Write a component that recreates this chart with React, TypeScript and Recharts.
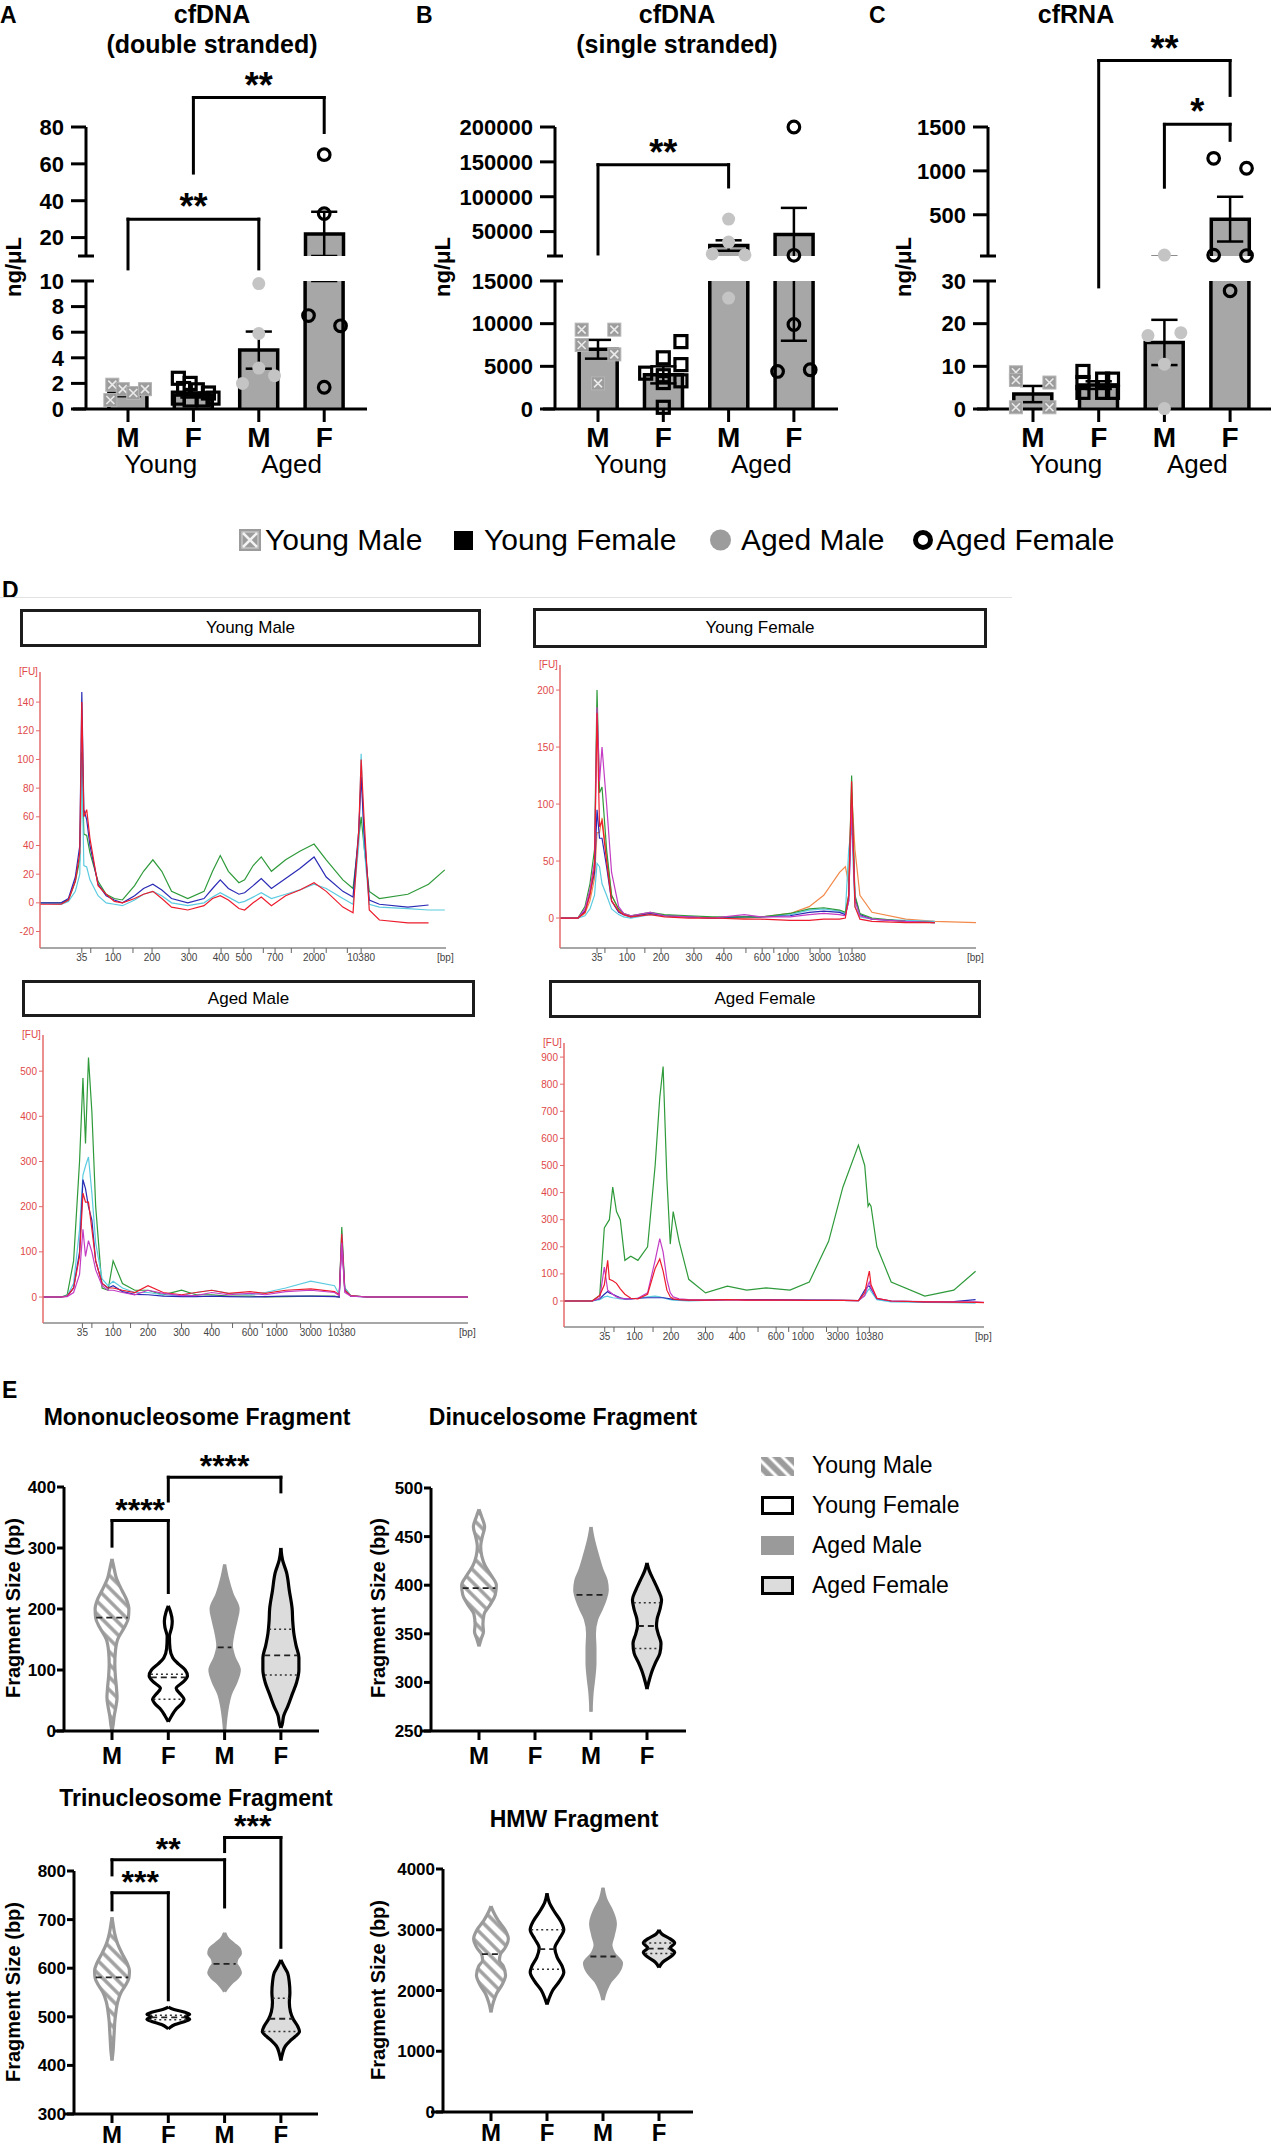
import React from "react";
import {
  ComposedChart,
  LineChart,
  Line,
  Bar,
  Scatter,
  Area,
  XAxis,
  YAxis,
  ReferenceLine,
} from "recharts";

const FONT = '"Liberation Sans", Arial, Helvetica, sans-serif';
const AX = { stroke: "#000", strokeWidth: 3 };
const BAR_FILL = "#a7a7a7";

// ---------- shared labels ----------
const SEX = ["M", "F", "M", "F"];
const AGE = ["Young", "Aged"];
const GROUP_NAMES = ["Young Male", "Young Female", "Aged Male", "Aged Female"];

// ---------- A: cfDNA (double stranded) ----------
const A_MEAN = [1.25, 1.1, 4.6, 22];
const A_SEM = [0.25, 0.2, 1.45, 12];
const A_PTS = [
  [1.9, 1.55, 1.25, 1.55, 0.7],
  [2.4, 2.0, 1.6, 1.5, 1.25, 0.85, 0.7, 0.7, 0.85],
  [9.8, 5.9, 3.2, 2.0, 2.6],
  [65, 33, 7.3, 6.5, 1.7],
];
const A_JIT = [
  [-0.24, -0.08, 0.08, 0.26, -0.27],
  [-0.23, -0.05, -0.15, 0.06, 0.23, -0.23, -0.05, 0.15, 0.3],
  [0, 0, 0, -0.25, 0.24],
  [0, 0, -0.24, 0.25, 0],
];
const A_BRACKETS = [
  { x0: 0, x1: 2, y: 30, l: 3, r: 3, text: "**" },
  { x0: 1, x1: 3, y: 96, l: 55, r: 77, text: "**" },
];

// ---------- B: cfDNA (single stranded) ----------
const B_MEAN = [7000, 4000, 30000, 46000];
const B_SEM = [1100, 1000, 7500, 38000];
const B_PTS = [
  [9300, 9300, 7500, 6400, 3000],
  [7900, 6000, 5200, 4200, 3900, 3100, 3300, 200],
  [68000, 35000, 18000, 16500, 13000],
  [200000, 16000, 9900, 4400, 4600],
];
const B_JIT = [
  [-0.25, 0.25, -0.25, 0.25, 0],
  [0.27, 0, 0.27, -0.27, 0, 0, 0.27, 0],
  [0, 0, -0.25, 0.25, 0],
  [0, 0, 0, -0.25, 0.25],
];
const B_BRACKETS = [{ x0: 0, x1: 2, y: 146000, l: 17900, r: 114000, text: "**" }];

// ---------- C: cfRNA ----------
const C_MEAN = [3.5, 5.6, 15.6, 450];
const C_SEM = [1.9, 0.9, 5.3, 255];
const C_PTS = [
  [8.6, 6.8, 6.2, 0.4, 0.4],
  [8.8, 7.0, 7.0, 6.2, 3.9, 3.9, 3.9],
  [40, 17.2, 17.9, 10.5, 0.1],
  [1143, 1030, 40, 35, 27.7],
];
const C_JIT = [
  [-0.26, -0.26, 0.25, -0.26, 0.25],
  [-0.24, 0.06, 0.21, -0.24, -0.24, 0.06, 0.21],
  [0, -0.25, 0.25, 0, 0],
  [-0.25, 0.25, -0.25, 0.25, 0],
];
const C_BRACKETS = [
  { x0: 1, x1: 3, y: 2257, l: -322, r: 1860, text: "**" },
  { x0: 2, x1: 3, y: 1530, l: 814, r: 1348, text: "*" },
];

// ---------- D: Bioanalyzer traces ----------
const LADDER = [35, 50, 100, 150, 200, 300, 400, 500, 600, 700, 1000, 2000, 3000, 7000, 10380];
const YM_LADDER_T = [10.3, 12.5, 18.0, 22.9, 27.6, 36.7, 44.6, 50.2, 55.0, 57.9, 61.9, 67.5, 70.5, 75.7, 79.1];
const YF_LADDER_T = [8.9, 10.8, 16.1, 20.4, 24.3, 32.2, 39.4, 44.7, 48.6, 51.4, 54.8, 60.1, 62.5, 67.1, 70.2];
const AM_LADDER_T = [9.27, 11.5, 16.5, 20.6, 24.7, 32.6, 39.7, 44.6, 48.7, 51.6, 55.0, 60.6, 63.0, 67.6, 70.3];
const AF_LADDER_T = [9.7, 11.9, 16.8, 21.2, 25.5, 33.7, 41.2, 46.2, 50.5, 53.5, 56.9, 62.5, 65.2, 70.0, 72.7];
const YM_SHOWN = [35, 100, 200, 300, 400, 500, 700, 2000, 10380];
const OTHER_SHOWN = [35, 100, 200, 300, 400, 600, 1000, 3000, 10380];

const GREEN = "#2e9a3a";
const BLUE = "#2a2ab5";
const CYAN = "#5ccbe0";
const RED = "#ec1c2c";
const MAGENTA = "#c43cc4";
const ORANGE = "#f2894a";

const YM_T = [0, 5.2, 7, 8.7, 9.8, 10.3, 10.8, 11.5, 12.3, 14.3, 16.3, 18.3, 20.3, 23.3, 25.5, 27.8, 30, 32.4, 36.4, 40.4, 42.5, 44.4, 46.4, 49, 50.4, 52.5, 54.5, 57, 60.5, 64, 67.5, 70.5, 74.6, 77.1, 78.5, 79.1, 79.8, 81.1, 83.6, 90.6, 95.7, 99.7];
const YM_GREEN = [0, 0, 2, 15, 30, 105, 48, 47, 35, 15, 6, 3, 2, 12, 22, 30, 22, 8, 3, 8, 22, 33, 22, 14, 16, 26, 32, 22, 30, 36, 41, 30, 16, 10, 45, 60, 40, 8, 3, 6, 13, 23];
const YM_BLUE = [0, 0, 3, 18, 40, 147, 65, 58, 40, 13, 5, 2, 0, 5, 10, 13, 9, 3, 0, 3, 10, 16, 10, 6, 7, 12, 17, 10, 17, 24, 32, 18, 8, 4, 50, 88, 50, 2, -1, -3, -1.5, null];
const YM_CYAN = [0, -1, 1, 8, 20, 100, 26, 25, 16, 5, 0, -1, -2, 2, 6, 8, 5, 0, -2, 0, 4, 7, 4, 0, 1, 4, 7, 3, 6, 9, 13, 10, 3, -1, 40, 104, 40, -1, -3, -4, -5, -5];
const YM_RED = [-1, -1, 2, 15, 35, 140, 60, 65, 45, 12, 6, 1, 0, 3, 6, 8, 3, -3, -5, -2, 3, 5, 2, -4, -5, 0, 4, -2, 5, 9, 14, 8, -3, -7, 50, 100, 60, -5, -12, -14, -14, null];

const YF_T = [0, 4.3, 6.0, 7.2, 8.3, 8.9, 9.5, 10.1, 11.2, 12.4, 14.1, 15.3, 17.0, 21.7, 25.1, 31.0, 36.7, 44.3, 48.3, 55.3, 59.9, 63.4, 67.2, 68.6, 69.4, 70.1, 70.9, 72.1, 75.0, 83.1, 90.1, 100];
const YF_GREEN = [0, 0, 10, 30, 60, 200, 110, 115, 60, 20, 8, 4, 2, 5, 3, 2, 1, 1, 1, 4, 8, 9, 7, 5, 20, 125, 20, 4, 0, -3, -4, null];
const YF_MAGENTA = [0, 0, 8, 25, 50, 185, 120, 150, 100, 40, 10, 4, 2, 5, 2, 1, 0, 3, 1, 1, 3, 4, 3, 2, 15, 100, 15, 2, -1, -3, -4, null];
const YF_RED = [0, 0, 5, 20, 45, 180, 80, 85, 50, 15, 6, 3, 1, 3, 1, 0, 0, -1, -1, -2, -2, -1, -1, 0, 20, 120, 10, -1, -3, -4, -4, null];
const YF_BLUE = [0, 0, 6, 22, 40, 95, 70, 70, 45, 15, 5, 3, 1, 4, 2, 1, 0, 1, 1, 2, 5, 6, 5, 3, 15, 105, 18, 3, -1, -3, -4, null];
const YF_ORANGE = [0, 0, 4, 15, 35, 75, 75, 88, 55, 20, 7, 4, 2, 4, 2, 1, 0, 0, 1, 4, 10, 20, 40, 45, 30, 110, 60, 20, 5, -1, -3, -4];
const YF_CYAN = [0, 0, 2, 8, 20, 48, 45, 30, 20, 8, 3, 1, 0, 3, 2, 1, 0, 1, 1, 3, 7, 8, 6, 4, 60, 80, 10, 1, -1, -2, -3, null];

const AM_T = [0, 4.3, 5.7, 7.2, 8.6, 9.4, 10.0, 10.7, 11.5, 12.4, 13.9, 15.3, 16.5, 18.7, 21.6, 24.7, 28.3, 32.6, 36.0, 39.7, 43.6, 48.7, 52.3, 57.1, 63.0, 68.6, 69.7, 70.3, 71.0, 72.4, 76.3, 85.9, 100];
const AM_GREEN = [0, 0, 5, 80, 300, 485, 340, 530, 410, 200, 20, 15, 80, 30, 15, 15, 5, 15, 5, 5, 2, 2, 0, 1, 2, 2, 0, 155, 20, 3, 0, 0, 0];
const AM_CYAN = [0, 0, 3, 30, 150, 270, 290, 310, 230, 120, 40, 25, 35, 20, 10, 10, 5, 3, 10, 15, 8, 5, 10, 20, 35, 25, 5, 140, 20, 3, 0, 0, 0];
const AM_BLUE = [0, 0, 2, 20, 100, 260, 240, 200, 170, 80, 30, 20, 25, 12, 6, 5, 2, 1, 1, 2, 1, 0, 1, 2, 2, 1, 0, 130, 15, 2, 0, 0, 0];
const AM_RED = [0, 0, 2, 20, 90, 230, 210, 210, 150, 80, 30, 20, 20, 15, 10, 25, 10, 5, 10, 15, 8, 12, 8, 15, 18, 12, 5, 140, 15, 3, 0, 0, 0];
const AM_MAGENTA = [0, 0, 1, 10, 50, 150, 90, 125, 100, 60, 25, 15, 15, 10, 5, 15, 8, 3, 3, 10, 5, 8, 5, 12, 15, 10, 3, 120, 10, 2, 0, 0, 0];

const AF_T = [0, 6.7, 8.5, 9.6, 10.4, 10.8, 11.6, 12.5, 13.4, 14.5, 15.9, 17.6, 19.9, 21.7, 22.8, 23.6, 24.5, 25.3, 26.0, 27.4, 29.7, 33.7, 38.9, 43.5, 48.1, 53.8, 58.4, 63.0, 66.4, 70.1, 71.6, 72.4, 72.7, 73.1, 74.5, 77.9, 85.9, 92.8, 98.0, 100];
const AF_GREEN = [0, 0, 20, 270, 290, 300, 420, 330, 300, 150, 165, 150, 200, 500, 750, 865, 450, 210, 330, 220, 80, 30, 55, 40, 48, 40, 70, 220, 420, 575, 500, 350, 360, 350, 200, 70, 18, 40, 110, null];
const AF_MAGENTA = [0, 0, 10, 125, 40, 35, 25, 15, 10, 8, 8, 10, 30, 150, 230, 180, 80, 30, 15, 8, 5, 3, 5, 3, 3, 3, 2, 2, 2, 1, 20, 60, 70, 50, 10, 0, -2, -3, -3, -5];
const AF_RED = [0, 0, 20, 60, 150, 80, 75, 65, 45, 25, 10, 8, 25, 120, 155, 110, 40, 15, 8, 5, 3, 3, 5, 3, 3, 3, 2, 2, 2, 1, 30, 90, 110, 60, 10, 0, -3, -4, -5, -6];
const AF_BLUE = [0, 0, 8, 25, 35, 30, 25, 18, 12, 8, 8, 10, 12, 12, 12, 12, 10, 8, 6, 5, 3, 3, 5, 5, 5, 4, 3, 3, 2, 1, 40, 55, 55, 45, 8, 0, -3, -2, 5, null];
const AF_CYAN = [0, 0, 5, 15, 18, 15, 12, 10, 8, 6, 8, 10, 15, 18, 15, 12, 8, 5, 3, 2, 0, 2, 5, 5, 4, 3, 3, 2, 2, 1, 20, 40, 45, 35, 5, -3, -5, -6, -8, null];

// ---------- E: violin profiles [size (bp), half width] ----------
type Prof = [number, number][];
const MONO_YM: Prof = [[282, 0], [270, 0.03], [250, 0.08], [230, 0.18], [215, 0.26], [200, 0.3], [185, 0.29], [170, 0.22], [150, 0.1], [130, 0.06], [110, 0.05], [90, 0.06], [70, 0.08], [55, 0.09], [40, 0.07], [25, 0.04], [10, 0.02], [0, 0]];
const MONO_YF: Prof = [[205, 0], [195, 0.04], [180, 0.07], [170, 0.06], [155, 0.02], [135, 0.03], [120, 0.08], [110, 0.18], [100, 0.3], [90, 0.34], [80, 0.26], [70, 0.14], [60, 0.22], [52, 0.28], [45, 0.24], [35, 0.13], [25, 0.06], [15, 0]];
const MONO_AM: Prof = [[273, 0], [250, 0.05], [225, 0.13], [200, 0.24], [180, 0.2], [160, 0.15], [140, 0.12], [120, 0.17], [100, 0.26], [80, 0.2], [60, 0.1], [40, 0.05], [20, 0.02], [0, 0]];
const MONO_AF: Prof = [[300, 0], [280, 0.03], [260, 0.1], [230, 0.15], [200, 0.2], [180, 0.21], [160, 0.23], [140, 0.27], [120, 0.32], [100, 0.32], [80, 0.28], [60, 0.2], [40, 0.12], [25, 0.05], [10, 0.02], [5, 0]];
const DINU_YM: Prof = [[478, 0], [470, 0.05], [460, 0.1], [450, 0.06], [440, 0.03], [430, 0.05], [420, 0.11], [410, 0.22], [400, 0.31], [390, 0.29], [380, 0.2], [370, 0.09], [360, 0.07], [352, 0.08], [345, 0.04], [337, 0]];
const DINU_AM: Prof = [[460, 0], [450, 0.03], [430, 0.12], [415, 0.2], [405, 0.27], [395, 0.29], [385, 0.25], [375, 0.18], [365, 0.1], [350, 0.06], [335, 0.07], [320, 0.07], [305, 0.05], [290, 0.02], [270, 0]];
const DINU_AF: Prof = [[423, 0], [415, 0.04], [405, 0.12], [395, 0.2], [385, 0.26], [375, 0.23], [365, 0.18], [358, 0.17], [350, 0.2], [340, 0.25], [330, 0.23], [320, 0.15], [310, 0.08], [300, 0.03], [293, 0]];
const TRI_YM: Prof = [[705, 0], [690, 0.02], [670, 0.05], [650, 0.1], [630, 0.18], [610, 0.27], [595, 0.31], [580, 0.3], [565, 0.24], [550, 0.16], [530, 0.1], [510, 0.07], [490, 0.05], [470, 0.04], [450, 0.03], [430, 0.02], [410, 0]];
const TRI_YF: Prof = [[520, 0], [515, 0.1], [510, 0.28], [505, 0.38], [500, 0.3], [495, 0.38], [490, 0.28], [484, 0.12], [478, 0.03], [475, 0]];
const TRI_AM: Prof = [[673, 0], [660, 0.06], [650, 0.16], [640, 0.26], [630, 0.28], [620, 0.22], [610, 0.2], [600, 0.25], [590, 0.28], [580, 0.22], [570, 0.12], [560, 0.05], [552, 0]];
const TRI_AF: Prof = [[617, 0], [605, 0.05], [590, 0.12], [570, 0.15], [550, 0.16], [530, 0.15], [510, 0.17], [495, 0.22], [480, 0.3], [470, 0.33], [460, 0.26], [450, 0.16], [440, 0.08], [425, 0.03], [410, 0]];
const HMW_YM: Prof = [[3390, 0], [3300, 0.04], [3150, 0.13], [3000, 0.25], [2850, 0.31], [2700, 0.25], [2600, 0.17], [2500, 0.15], [2400, 0.22], [2250, 0.26], [2100, 0.2], [1950, 0.1], [1800, 0.04], [1640, 0]];
const HMW_YF: Prof = [[3600, 0], [3450, 0.04], [3300, 0.13], [3150, 0.24], [3000, 0.3], [2850, 0.22], [2700, 0.14], [2550, 0.18], [2400, 0.27], [2300, 0.3], [2150, 0.22], [2000, 0.1], [1850, 0.03], [1770, 0]];
const HMW_AM: Prof = [[3690, 0], [3500, 0.05], [3300, 0.16], [3100, 0.22], [2900, 0.18], [2750, 0.14], [2600, 0.2], [2450, 0.33], [2300, 0.27], [2150, 0.13], [2000, 0.05], [1840, 0]];
const HMW_AF: Prof = [[3000, 0], [2930, 0.05], [2850, 0.2], [2780, 0.28], [2700, 0.2], [2630, 0.28], [2550, 0.2], [2470, 0.07], [2380, 0]];

const MONO_MED = [186, 88, 137, 124];
const MONO_Q = [null, [52, 93], null, [92, 167]];
const DINU_MED = [397, null, 390, 358];
const DINU_Q = [null, null, null, [335, 382]];
const TRI_MED = [581, 499, 609, 496];
const TRI_Q = [null, [494, 503], null, [470, 538]];
const HMW_MED = [2600, 2680, 2560, 2690];
const HMW_Q = [null, [2350, 3000], null, [2610, 2780]];

const MONO_BRACKETS = [
  { x0: 0, x1: 1, y: 345, l: 303, r: 227, text: "****" },
  { x0: 1, x1: 3, y: 416, l: 377, r: 392, text: "****" },
];
const TRI_BRACKETS = [
  { x0: 0, x1: 1, y: 755, l: 720, r: 535, text: "***" },
  { x0: 0, x1: 2, y: 823, l: 792, r: 726, text: "**" },
  { x0: 2, x1: 3, y: 869, l: 840, r: 643, text: "***" },
];

// ---------- helpers ----------
type Bracket = { x0: number; x1: number; y: number; l: number; r: number; text: string };

function Txt({ x, y, size, bold, anchor = "start", color = "#000", children }: any) {
  const style: React.CSSProperties = {
    position: "absolute",
    top: y - 0.847 * size,
    fontSize: size,
    lineHeight: `${size}px`,
    fontWeight: bold ? 700 : 400,
    color,
    whiteSpace: "nowrap",
    fontFamily: FONT,
  };
  if (anchor === "middle") {
    style.left = x - 300;
    style.width = 600;
    style.textAlign = "center";
  } else style.left = x;
  return <div style={style}>{children}</div>;
}

function VText({ cx, cy, size, children }: any) {
  return (
    <div
      style={{
        position: "absolute",
        left: cx - 150,
        top: cy - size / 2,
        width: 300,
        height: size,
        lineHeight: `${size}px`,
        fontSize: size,
        fontWeight: 700,
        textAlign: "center",
        transform: "rotate(-90deg)",
        fontFamily: FONT,
        whiteSpace: "nowrap",
      }}
    >
      {children}
    </div>
  );
}

const bracketLines = (b: Bracket, k: string, size: number) => [
  <ReferenceLine
    key={`${k}h`}
    segment={[{ x: b.x0, y: b.y }, { x: b.x1, y: b.y }]}
    stroke="#000"
    strokeWidth={3}
    strokeLinecap="square"
    ifOverflow="visible"
    label={{ value: b.text, position: "top", offset: 0, fontSize: size, fontWeight: 700, fill: "#000", fontFamily: FONT }}
  />,
  <ReferenceLine key={`${k}l`} segment={[{ x: b.x0, y: b.y }, { x: b.x0, y: b.l }]} stroke="#000" strokeWidth={3} strokeLinecap="square" ifOverflow="visible" />,
  <ReferenceLine key={`${k}r`} segment={[{ x: b.x1, y: b.y }, { x: b.x1, y: b.r }]} stroke="#000" strokeWidth={3} strokeLinecap="square" ifOverflow="visible" />,
];

const MARKERS = [
  (p: any) => (
    <g>
      <rect x={p.cx - 6.5} y={p.cy - 6.5} width={13} height={13} fill="#9c9c9c" stroke="#b4b4b4" strokeWidth={1} />
      <path d={`M${p.cx - 4},${p.cy - 4}L${p.cx + 4},${p.cy + 4}M${p.cx + 4},${p.cy - 4}L${p.cx - 4},${p.cy + 4}`} stroke="#eaeaea" strokeWidth={1.6} />
    </g>
  ),
  (p: any) => <rect x={p.cx - 6} y={p.cy - 6} width={12} height={12} fill="none" stroke="#000" strokeWidth={3.2} />,
  (p: any) => <circle cx={p.cx} cy={p.cy} r={6.5} fill="#c4c4c4" />,
  (p: any) => <circle cx={p.cx} cy={p.cy} r={5.8} fill="none" stroke="#000" strokeWidth={3.2} />,
];

// bar drawn 38px wide around the centre Recharts gives for the category
const barShape = (top: number) => (p: any) => {
  const { x, y, width, height, payload } = p;
  if (!(height > 0.5)) return <g />;
  const cx = x + width / 2;
  const l = cx - 19;
  const r = cx + 19;
  const closed = payload.mean <= top;
  const d = closed
    ? `M${l},${y + height}V${y}H${r}V${y + height}`
    : `M${l},${y + height}V${y}M${r},${y}V${y + height}`;
  return (
    <g>
      <rect x={l} y={y} width={38} height={height} fill={BAR_FILL} />
      <path d={d} fill="none" stroke="#000" strokeWidth={3.5} />
    </g>
  );
};

// ---------- broken-axis bar panel ----------
const UP_TOP = 127;
const UP_BOT = 256;
const LOW_TOP = 281;
const LOW_BOT = 409;

function BarPanel({ c }: any) {
  const xDom: [number, number] = [(c.axisX - c.cat0) / c.step, (c.right - c.cat0) / c.step];
  const start = (c.lineStart - c.cat0) / c.step;
  const stub = 8 / c.step;
  const W = c.right + 4 - c.left;
  const yW = c.axisX - c.left;
  const rows = c.mean.map((m: number, i: number) => ({ x: i, mean: m, sem: c.sem[i] }));
  const pts = c.vals.map((vs: number[], g: number) => vs.map((y, k) => ({ x: g + c.jit[g][k], y })));
  const split = c.low[1];
  const tick = { fontSize: 22, fontWeight: 700, fill: "#000", fontFamily: FONT };

  const sexTick = (p: any) => {
    const v = p.payload.value;
    return (
      <g>
        <text x={p.x} y={p.y} dy="0.71em" textAnchor="middle" fontSize={28} fontWeight={700} fontFamily={FONT} fill="#000">
          {SEX[v]}
        </text>
        {v % 2 === 0 && (
          <text x={p.x + c.step / 2} y={p.y + 28} dy="0.71em" textAnchor="middle" fontSize={26} fontFamily={FONT} fill="#000">
            {AGE[v / 2]}
          </text>
        )}
      </g>
    );
  };

  const errs = (k: string) =>
    rows.flatMap((r: any) => {
      const lo = r.mean - r.sem;
      const hi = r.mean + r.sem;
      return [
        <ReferenceLine key={`${k}v${r.x}`} segment={[{ x: r.x, y: lo }, { x: r.x, y: hi }]} stroke="#000" strokeWidth={2.5} ifOverflow="hidden" />,
        <ReferenceLine key={`${k}t${r.x}`} segment={[{ x: r.x - 0.2, y: hi }, { x: r.x + 0.2, y: hi }]} stroke="#000" strokeWidth={2.5} ifOverflow="hidden" />,
        <ReferenceLine key={`${k}b${r.x}`} segment={[{ x: r.x - 0.2, y: lo }, { x: r.x + 0.2, y: lo }]} stroke="#000" strokeWidth={2.5} ifOverflow="hidden" />,
      ];
    });

  const dots = (upper: boolean) =>
    pts.map((ps: any[], g: number) => {
      const sel = ps.filter((p) => (upper ? p.y > split : p.y <= split));
      return sel.length ? (
        <Scatter key={`s${g}`} data={sel} dataKey="y" shape={MARKERS[g]} isAnimationActive={false} />
      ) : null;
    });

  return (
    <>
      <div style={{ position: "absolute", left: c.left, top: 0 }}>
        <ComposedChart width={W} height={300} data={rows} margin={{ top: UP_TOP, right: 4, bottom: 300 - UP_BOT, left: 0 }}>
          <XAxis type="number" dataKey="x" domain={xDom} ticks={[0, 1, 2, 3]} hide />
          <YAxis
            type="number"
            domain={c.up}
            ticks={c.upTicks}
            interval={0}
            width={yW}
            axisLine={AX}
            tickLine={AX}
            tickSize={15}
            tickMargin={7}
            tick={tick}
          />
          <Bar
            dataKey={(d: any) => (d.mean > c.up[0] ? [c.up[0], Math.min(d.mean, c.up[1])] : [c.up[0], c.up[0]])}
            barSize={38}
            shape={barShape(c.up[1])}
            isAnimationActive={false}
          />
          {errs("u")}
          <ReferenceLine
            segment={[{ x: xDom[0] - stub, y: c.up[0] }, { x: xDom[0] + stub, y: c.up[0] }]}
            stroke="#000"
            strokeWidth={3}
            ifOverflow="visible"
          />
          {c.brackets.flatMap((b: Bracket, i: number) => bracketLines(b, `br${i}`, 36))}
          {dots(true)}
        </ComposedChart>
      </div>
      <div style={{ position: "absolute", left: c.left, top: 0 }}>
        <ComposedChart width={W} height={500} data={rows} margin={{ top: LOW_TOP, right: 4, bottom: 0, left: 0 }}>
          <XAxis
            type="number"
            dataKey="x"
            domain={xDom}
            ticks={[0, 1, 2, 3]}
            interval={0}
            axisLine={false}
            tickLine={AX}
            tickSize={13}
            tickMargin={5}
            height={500 - LOW_BOT}
            tick={sexTick}
          />
          <YAxis
            type="number"
            domain={c.low}
            ticks={c.lowTicks}
            interval={0}
            width={yW}
            axisLine={AX}
            tickLine={AX}
            tickSize={15}
            tickMargin={7}
            tick={tick}
          />
          <Bar
            dataKey={(d: any) => [0, Math.min(d.mean, c.low[1])]}
            barSize={38}
            shape={barShape(c.low[1])}
            isAnimationActive={false}
          />
          {errs("l")}
          <ReferenceLine
            segment={[{ x: start, y: c.low[0] }, { x: xDom[1], y: c.low[0] }]}
            stroke="#000"
            strokeWidth={3}
            ifOverflow="visible"
          />
          <ReferenceLine
            segment={[{ x: xDom[0], y: c.low[1] }, { x: xDom[0] + stub, y: c.low[1] }]}
            stroke="#000"
            strokeWidth={3}
            ifOverflow="visible"
          />
          {dots(false)}
        </ComposedChart>
      </div>
    </>
  );
}

// ---------- electropherogram panel ----------
function TracePanel({ c }: any) {
  const [pl, pr, pt, pb] = c.plot;
  const W = pr - pl + 44;
  const H = pb - pt + 22;
  const rows = c.t.map((t: number, i: number) => {
    const r: any = { t };
    c.lines.forEach((l: any, k: number) => (r[`s${k}`] = l.v[i]));
    return r;
  });
  const [bx, by, bw, bh] = c.box;
  return (
    <>
      <div
        style={{
          position: "absolute",
          left: bx,
          top: by,
          width: bw,
          height: bh,
          boxSizing: "border-box",
          border: "3px solid #1c1c1c",
          fontSize: 17,
          lineHeight: `${bh - 6}px`,
          textAlign: "center",
          fontFamily: FONT,
        }}
      >
        {c.label}
      </div>
      <div style={{ position: "absolute", left: pl - 40, top: pt }}>
        <LineChart width={W} height={H} data={rows} margin={{ top: 0, right: 4, bottom: 0, left: 0 }}>
          <XAxis
            type="number"
            dataKey="t"
            domain={[0, 100]}
            ticks={c.pos}
            interval={0}
            tickFormatter={(v: number) => {
              const k = c.pos.indexOf(v);
              return c.shown.includes(LADDER[k]) ? String(LADDER[k]) : "";
            }}
            axisLine={{ stroke: "#8a8a8a", strokeWidth: 1.5 }}
            tickLine={{ stroke: "#666" }}
            tickSize={5}
            tickMargin={1}
            height={22}
            tick={{ fontSize: 10, fill: "#444", fontFamily: FONT }}
          />
          <YAxis
            type="number"
            domain={c.y}
            ticks={c.yTicks}
            interval={0}
            allowDataOverflow
            width={40}
            axisLine={{ stroke: "#e46a6a", strokeWidth: 1.5 }}
            tickLine={{ stroke: "#e46a6a" }}
            tickSize={4}
            tickMargin={2}
            tick={{ fontSize: 10, fill: "#e04848", fontFamily: FONT }}
          />
          {c.lines.map((l: any, k: number) => (
            <Line
              key={k}
              dataKey={`s${k}`}
              type="linear"
              stroke={l.c}
              strokeWidth={1.2}
              dot={false}
              activeDot={false}
              isAnimationActive={false}
            />
          ))}
        </LineChart>
      </div>
      <Txt x={pl - 21} y={pt + 3} size={10} color="#e04848">[FU]</Txt>
      <Txt x={pr - 9} y={pb + 13} size={10} color="#444">[bp]</Txt>
    </>
  );
}

// ---------- violin panel ----------
const VIOLIN_STYLE = [
  { fill: "url(#hatchViolin)", stroke: "#9a9a9a" },
  { fill: "#ffffff", stroke: "#000" },
  { fill: "#9a9a9a", stroke: "#9a9a9a" },
  { fill: "#dcdcdc", stroke: "#000" },
];

const widthAt = (prof: Prof, s: number) => {
  for (let i = 0; i < prof.length - 1; i++) {
    const [s0, w0] = prof[i];
    const [s1, w1] = prof[i + 1];
    if (s <= s0 && s >= s1) return s0 === s1 ? w0 : w0 + ((s - s0) / (s1 - s0)) * (w1 - w0);
  }
  return 0;
};

function ViolinPanel({ c }: any) {
  const xDom: [number, number] = [(c.axisX - c.cat0) / c.step, (c.right - c.cat0) / c.step];
  const start = (c.lineStart - c.cat0) / c.step;
  const W = c.right + 4 - c.left;
  const yW = c.axisX - c.left;
  const H = c.bottom - c.top + 120 + c.axisH;
  const box: React.CSSProperties = { position: "absolute", left: c.left, top: c.top - 120 };
  const marks: any[] = [];
  c.profs.forEach((prof: Prof | null, g: number) => {
    if (!prof) return;
    const med = c.med[g];
    const w = widthAt(prof, med) * 0.96;
    marks.push(
      <ReferenceLine key={`m${g}`} segment={[{ x: g - w, y: med }, { x: g + w, y: med }]} stroke="#222" strokeWidth={1.8} strokeDasharray="6 4" ifOverflow="visible" />
    );
    if (c.q[g]) {
      c.q[g].forEach((qv: number, j: number) => {
        const wq = widthAt(prof, qv) * 0.94;
        marks.push(
          <ReferenceLine key={`q${g}${j}`} segment={[{ x: g - wq, y: qv }, { x: g + wq, y: qv }]} stroke="#333" strokeWidth={1.5} strokeDasharray="2 3" ifOverflow="visible" />
        );
      });
    }
  });
  const anchorRows = [
    { x: 0, y: c.y[0] },
    { x: 3, y: c.y[1] },
  ];
  return (
    <>
      {c.profs.map((prof: Prof | null, g: number) =>
        prof ? (
          <div key={g} style={box}>
            <ComposedChart
              layout="vertical"
              width={W}
              height={H}
              data={prof.map(([s, w]) => ({ s, r: [g - w, g + w] }))}
              margin={{ top: 120, right: 4, bottom: c.axisH, left: yW }}
            >
              <XAxis type="number" domain={xDom} hide />
              <YAxis type="number" dataKey="s" domain={c.y} hide reversed />
              <Area
                dataKey="r"
                type="monotone"
                fill={VIOLIN_STYLE[g].fill}
                fillOpacity={1}
                stroke={VIOLIN_STYLE[g].stroke}
                strokeWidth={3.2}
                dot={false}
                activeDot={false}
                isAnimationActive={false}
              />
            </ComposedChart>
          </div>
        ) : null
      )}
      <div style={box}>
        <ComposedChart width={W} height={H} data={anchorRows} margin={{ top: 120, right: 4, bottom: 0, left: 0 }}>
          <XAxis
            type="number"
            dataKey="x"
            domain={xDom}
            ticks={[0, 1, 2, 3]}
            interval={0}
            tickFormatter={(v: number) => SEX[v]}
            axisLine={false}
            tickLine={AX}
            tickSize={9}
            tickMargin={c.labelGap}
            height={c.axisH}
            tick={{ fontSize: 24, fontWeight: 700, fill: "#000", fontFamily: FONT }}
          />
          <YAxis
            type="number"
            dataKey="y"
            domain={c.y}
            ticks={c.yTicks}
            interval={0}
            width={yW}
            axisLine={AX}
            tickLine={AX}
            tickSize={7}
            tickMargin={1}
            tick={{ fontSize: 17, fontWeight: 700, fill: "#000", fontFamily: FONT }}
          />
          <Scatter data={anchorRows} dataKey="y" shape={() => <g />} isAnimationActive={false} />
          <ReferenceLine
            segment={[{ x: start, y: c.y[0] }, { x: xDom[1], y: c.y[0] }]}
            stroke="#000"
            strokeWidth={3}
            ifOverflow="visible"
          />
          {marks}
          {c.brackets.flatMap((b: Bracket, i: number) => bracketLines(b, `vb${i}`, 32))}
        </ComposedChart>
      </div>
    </>
  );
}

// ---------- panel configs (layout only) ----------
const PANEL_A = {
  left: 0, axisX: 86, cat0: 128, step: 65.4, right: 367, lineStart: 73,
  up: [10, 80], upTicks: [20, 40, 60, 80], low: [0, 10], lowTicks: [0, 2, 4, 6, 8, 10],
  mean: A_MEAN, sem: A_SEM, vals: A_PTS, jit: A_JIT, brackets: A_BRACKETS,
};
const PANEL_B = {
  left: 440, axisX: 555, cat0: 598, step: 65.3, right: 838, lineStart: 543,
  up: [15000, 200000], upTicks: [50000, 100000, 150000, 200000], low: [0, 15000], lowTicks: [0, 5000, 10000, 15000],
  mean: B_MEAN, sem: B_SEM, vals: B_PTS, jit: B_JIT, brackets: B_BRACKETS,
};
const PANEL_C = {
  left: 900, axisX: 988, cat0: 1033, step: 65.7, right: 1271, lineStart: 977,
  up: [30, 1500], upTicks: [500, 1000, 1500], low: [0, 30], lowTicks: [0, 10, 20, 30],
  mean: C_MEAN, sem: C_SEM, vals: C_PTS, jit: C_JIT, brackets: C_BRACKETS,
};

const TRACE_YM = {
  label: GROUP_NAMES[0], box: [20, 609, 461, 38], plot: [40, 446, 672, 948],
  y: [-31.5, 161], yTicks: [-20, 0, 20, 40, 60, 80, 100, 120, 140],
  t: YM_T, pos: YM_LADDER_T, shown: YM_SHOWN,
  lines: [{ c: GREEN, v: YM_GREEN }, { c: CYAN, v: YM_CYAN }, { c: BLUE, v: YM_BLUE }, { c: RED, v: YM_RED }],
};
const TRACE_YF = {
  label: GROUP_NAMES[1], box: [533, 608, 454, 40], plot: [560, 976, 665, 948],
  y: [-26.3, 222], yTicks: [0, 50, 100, 150, 200],
  t: YF_T, pos: YF_LADDER_T, shown: OTHER_SHOWN,
  lines: [
    { c: ORANGE, v: YF_ORANGE }, { c: CYAN, v: YF_CYAN }, { c: BLUE, v: YF_BLUE },
    { c: GREEN, v: YF_GREEN }, { c: MAGENTA, v: YF_MAGENTA }, { c: RED, v: YF_RED },
  ],
};
const TRACE_AM = {
  label: GROUP_NAMES[2], box: [22, 980, 453, 37], plot: [43, 468, 1035, 1323],
  y: [-57.5, 580], yTicks: [0, 100, 200, 300, 400, 500],
  t: AM_T, pos: AM_LADDER_T, shown: OTHER_SHOWN,
  lines: [
    { c: GREEN, v: AM_GREEN }, { c: CYAN, v: AM_CYAN }, { c: BLUE, v: AM_BLUE },
    { c: RED, v: AM_RED }, { c: MAGENTA, v: AM_MAGENTA },
  ],
};
const TRACE_AF = {
  label: GROUP_NAMES[3], box: [549, 980, 432, 38], plot: [564, 984, 1043, 1327],
  y: [-96, 952], yTicks: [0, 100, 200, 300, 400, 500, 600, 700, 800, 900],
  t: AF_T, pos: AF_LADDER_T, shown: OTHER_SHOWN,
  lines: [
    { c: CYAN, v: AF_CYAN }, { c: BLUE, v: AF_BLUE }, { c: GREEN, v: AF_GREEN },
    { c: MAGENTA, v: AF_MAGENTA }, { c: RED, v: AF_RED },
  ],
};

const V_MONO = {
  left: 0, axisX: 64, cat0: 112, step: 56.3, right: 319, lineStart: 53, top: 1487, bottom: 1731, labelGap: 7, axisH: 46,
  y: [0, 400], yTicks: [0, 100, 200, 300, 400],
  profs: [MONO_YM, MONO_YF, MONO_AM, MONO_AF], med: MONO_MED, q: MONO_Q, brackets: MONO_BRACKETS,
};
const V_DINU = {
  left: 370, axisX: 431, cat0: 479, step: 56, right: 686, lineStart: 420, top: 1488, bottom: 1731, labelGap: 7, axisH: 46,
  y: [250, 500], yTicks: [250, 300, 350, 400, 450, 500],
  profs: [DINU_YM, null, DINU_AM, DINU_AF], med: DINU_MED, q: DINU_Q, brackets: [],
};
const V_TRI = {
  left: 0, axisX: 74, cat0: 112, step: 56.3, right: 318, lineStart: 64, top: 1871, bottom: 2114, labelGap: 3, axisH: 34,
  y: [300, 800], yTicks: [300, 400, 500, 600, 700, 800],
  profs: [TRI_YM, TRI_YF, TRI_AM, TRI_AF], med: TRI_MED, q: TRI_Q, brackets: TRI_BRACKETS,
};
const V_HMW = {
  left: 370, axisX: 443, cat0: 491, step: 56, right: 693, lineStart: 431, top: 1869, bottom: 2112, labelGap: 3, axisH: 36,
  y: [0, 4000], yTicks: [0, 1000, 2000, 3000, 4000],
  profs: [HMW_YM, HMW_YF, HMW_AM, HMW_AF], med: HMW_MED, q: HMW_Q, brackets: [],
};

// ---------- legends ----------
function TopLegend() {
  const y = 550;
  return (
    <>
      <svg style={{ position: "absolute", left: 0, top: 520 }} width={1276} height={40}>
        <rect x={239} y={9} width={22} height={22} fill="#9c9c9c" />
        <rect x={242} y={12} width={16} height={16} fill="none" stroke="#c4c4c4" strokeWidth={1.5} />
        <path d="M243,13L257,27M257,13L243,27" stroke="#f2f2f2" strokeWidth={2.5} />
        <rect x={454} y={11} width={19} height={19} fill="#000" />
        <circle cx={720.5} cy={20} r={10.5} fill="#9c9c9c" />
        <circle cx={923} cy={20} r={7.5} fill="none" stroke="#000" strokeWidth={5} />
      </svg>
      <Txt x={265} y={y} size={30}>{GROUP_NAMES[0]}</Txt>
      <Txt x={484} y={y} size={30}>{GROUP_NAMES[1]}</Txt>
      <Txt x={741} y={y} size={30}>{GROUP_NAMES[2]}</Txt>
      <Txt x={936} y={y} size={30}>{GROUP_NAMES[3]}</Txt>
    </>
  );
}

function ViolinLegend() {
  const base = [1473, 1513, 1553, 1593];
  return (
    <>
      <svg style={{ position: "absolute", left: 750, top: 1440 }} width={60} height={170}>
        <rect x={11} y={17} width={33} height={19} fill="url(#hatchLegend)" />
        <rect x={12.5} y={57.5} width={30} height={16} fill="#fff" stroke="#000" strokeWidth={3} />
        <rect x={11} y={96} width={33} height={19} fill="#9a9a9a" />
        <rect x={12.5} y={137.5} width={30} height={16} fill="#dcdcdc" stroke="#000" strokeWidth={3} />
      </svg>
      {GROUP_NAMES.map((n, i) => (
        <Txt key={n} x={812} y={base[i]} size={23}>{n}</Txt>
      ))}
    </>
  );
}

export default function App() {
  return (
    <div
      style={{
        position: "absolute",
        left: 0,
        top: 0,
        width: 1276,
        height: 2148,
        background: "#fff",
        overflow: "hidden",
        fontFamily: FONT,
      }}
    >
      <svg width={0} height={0} style={{ position: "absolute" }}>
        <defs>
          <pattern id="hatchViolin" patternUnits="userSpaceOnUse" width={9} height={9} patternTransform="rotate(-45)">
            <rect width={9} height={9} fill="#fff" />
            <line x1={2} y1={0} x2={2} y2={9} stroke="#a0a0a0" strokeWidth={3.5} />
          </pattern>
          <pattern id="hatchLegend" patternUnits="userSpaceOnUse" width={9} height={9} patternTransform="rotate(-45)">
            <rect width={9} height={9} fill="#9c9c9c" />
            <line x1={2} y1={0} x2={2} y2={9} stroke="#fff" strokeWidth={3} />
          </pattern>
        </defs>
      </svg>

      {/* A - C */}
      <Txt x={0} y={23} size={23} bold>A</Txt>
      <Txt x={416} y={23} size={23} bold>B</Txt>
      <Txt x={869} y={23} size={23} bold>C</Txt>
      <Txt x={212} y={23} size={25} bold anchor="middle">cfDNA</Txt>
      <Txt x={212} y={53} size={25} bold anchor="middle">(double stranded)</Txt>
      <Txt x={677} y={23} size={25} bold anchor="middle">cfDNA</Txt>
      <Txt x={677} y={53} size={25} bold anchor="middle">(single stranded)</Txt>
      <Txt x={1076} y={23} size={25} bold anchor="middle">cfRNA</Txt>
      <VText cx={14} cy={267} size={22}>ng/μL</VText>
      <VText cx={443} cy={267} size={22}>ng/μL</VText>
      <VText cx={904} cy={267} size={22}>ng/μL</VText>
      <BarPanel c={PANEL_A} />
      <BarPanel c={PANEL_B} />
      <BarPanel c={PANEL_C} />
      <TopLegend />

      {/* D */}
      <Txt x={2} y={598} size={23} bold>D</Txt>
      <div style={{ position: "absolute", left: 0, top: 597, width: 1012, height: 1, background: "#e2e2e2" }} />
      <TracePanel c={TRACE_YM} />
      <TracePanel c={TRACE_YF} />
      <TracePanel c={TRACE_AM} />
      <TracePanel c={TRACE_AF} />

      {/* E */}
      <Txt x={2} y={1398} size={23} bold>E</Txt>
      <Txt x={197} y={1425} size={23} bold anchor="middle">Mononucleosome Fragment</Txt>
      <Txt x={563} y={1425} size={23} bold anchor="middle">Dinucelosome Fragment</Txt>
      <Txt x={196} y={1806} size={23} bold anchor="middle">Trinucleosome Fragment</Txt>
      <Txt x={574} y={1827} size={23} bold anchor="middle">HMW Fragment</Txt>
      <VText cx={13} cy={1608} size={20}>Fragment Size (bp)</VText>
      <VText cx={378} cy={1608} size={20}>Fragment Size (bp)</VText>
      <VText cx={13} cy={1992} size={20}>Fragment Size (bp)</VText>
      <VText cx={378} cy={1990} size={20}>Fragment Size (bp)</VText>
      <ViolinPanel c={V_MONO} />
      <ViolinPanel c={V_DINU} />
      <ViolinPanel c={V_TRI} />
      <ViolinPanel c={V_HMW} />
      <ViolinLegend />
    </div>
  );
}
